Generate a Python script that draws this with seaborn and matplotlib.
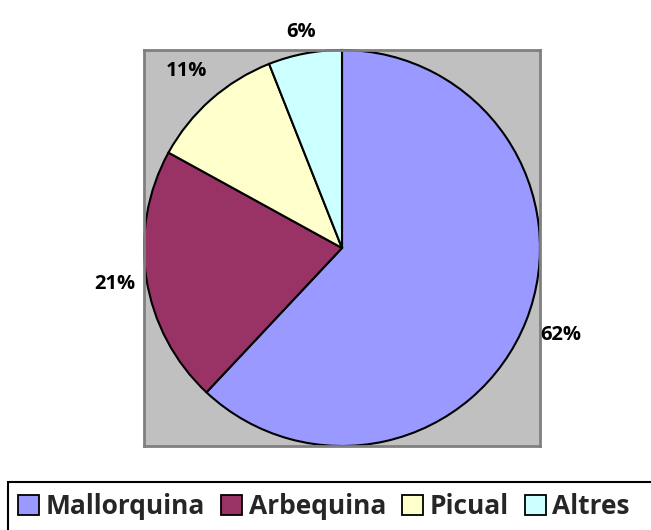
import matplotlib
matplotlib.use("Agg")
import matplotlib.pyplot as plt
from matplotlib.patches import Rectangle
import seaborn as sns

sns.set_theme(style="white")
plt.rcParams["font.family"] = ["Open Sans", "DejaVu Sans"]

varieties = ["Mallorquina", "Arbequina", "Picual", "Altres"]
shares = [62, 21, 11, 6]
colors = ["#9999FF", "#993366", "#FFFFCC", "#CCFFFF"]
# distance of each percent label from the centre (in radii)
label_dist = [1.19, 1.16, 1.19, 1.11]

fig = plt.figure(figsize=(6.51, 5.30), dpi=100)
ax = fig.add_axes([143 / 651, 84 / 530, 398 / 651, 396 / 530])

wedges, _, autotexts = ax.pie(
    shares, colors=colors, startangle=90, counterclock=False,
    autopct="%.0f%%", pctdistance=1.0, radius=1, frame=True,
    wedgeprops={"edgecolor": "black", "linewidth": 1.5},
    textprops={"fontsize": 14.5, "fontweight": "bold", "color": "black"},
)
for t, d in zip(autotexts, label_dist):
    x, y = t.get_position()
    t.set_position((x * d, y * d))
    t.set_clip_on(False)

ax.set_xlim(-1, 1)
ax.set_ylim(-1, 1)
ax.set_xticks([])
ax.set_yticks([])
ax.set_facecolor("#C0C0C0")
for s in ax.spines.values():
    s.set_color("#808080")
    s.set_linewidth(2)

# legend box runs off the bottom/right edge like the original
fig.patches.append(Rectangle((8 / 651, -0.05), 1.0, 1 - 482 / 530 + 0.05,
                             transform=fig.transFigure, fill=False,
                             edgecolor="black", linewidth=1.5))
leg = fig.legend(
    wedges, varieties, loc="center left", bbox_to_anchor=(18 / 651, 23 / 530),
    ncol=4, frameon=False,
    prop={"size": 19, "weight": "bold"},
    handlelength=0.8, handleheight=0.8, handletextpad=0.25, columnspacing=0.6,
    borderpad=0, borderaxespad=0,
)
for h in leg.legend_handles:
    h.set_linewidth(1.3)

fig.savefig("out.png", dpi=100)
